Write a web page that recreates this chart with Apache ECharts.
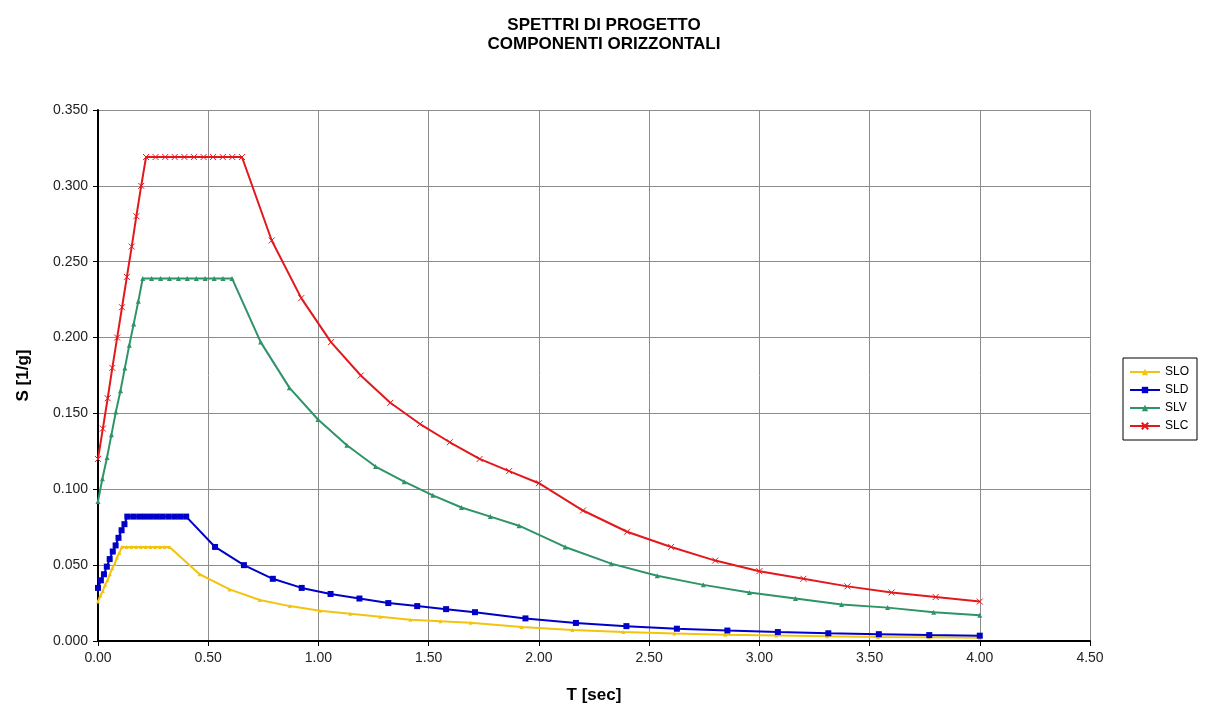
<!DOCTYPE html>
<html>
<head>
<meta charset="utf-8">
<script src="https://cdn.jsdelivr.net/npm/echarts@6/dist/echarts.min.js"></script>
<style>
  html, body { margin: 0; padding: 0; background: #fff; }
  #container { width: 1208px; height: 709px; }
</style>
</head>
<body>
<div id="container"></div>
<script>
// periodi T [sec] e ordinate S [1/g]
var slo_T = [0, 0.011, 0.022, 0.032, 0.043, 0.054, 0.065, 0.076, 0.086, 0.097, 0.108,
             0.130, 0.151, 0.173, 0.194, 0.216, 0.238, 0.259, 0.281, 0.302, 0.324,
             0.461, 0.597, 0.734, 0.870, 1.007, 1.144, 1.280, 1.417, 1.553, 1.690,
             1.921, 2.152, 2.383, 2.614, 2.845, 3.076, 3.307, 3.538, 3.769, 4.000];
var slo_S = [0.026, 0.030, 0.033, 0.037, 0.040, 0.044, 0.048, 0.051, 0.055, 0.058, 0.062,
             0.062, 0.062, 0.062, 0.062, 0.062, 0.062, 0.062, 0.062, 0.062, 0.062,
             0.044, 0.034, 0.027, 0.023, 0.020, 0.018, 0.016, 0.014, 0.013, 0.012,
             0.0092, 0.0073, 0.0060, 0.0050, 0.0042, 0.0036, 0.0031, 0.0027, 0.0024, 0.0021];

var sld_T = [0, 0.013, 0.027, 0.040, 0.053, 0.067, 0.080, 0.093, 0.107, 0.120, 0.133,
             0.160, 0.187, 0.213, 0.240, 0.267, 0.293, 0.320, 0.347, 0.373, 0.400,
             0.531, 0.662, 0.793, 0.924, 1.055, 1.186, 1.317, 1.448, 1.579, 1.710,
             1.939, 2.168, 2.397, 2.626, 2.855, 3.084, 3.313, 3.542, 3.771, 4.000];
var sld_S = [0.035, 0.040, 0.044, 0.049, 0.054, 0.059, 0.063, 0.068, 0.073, 0.077, 0.082,
             0.082, 0.082, 0.082, 0.082, 0.082, 0.082, 0.082, 0.082, 0.082, 0.082,
             0.062, 0.050, 0.041, 0.035, 0.031, 0.028, 0.025, 0.023, 0.021, 0.019,
             0.0149, 0.0119, 0.0098, 0.0081, 0.0069, 0.0059, 0.0051, 0.0045, 0.0039, 0.0035];

var slv_T = [0, 0.020, 0.041, 0.061, 0.081, 0.102, 0.122, 0.142, 0.162, 0.183, 0.203,
             0.243, 0.284, 0.324, 0.365, 0.405, 0.446, 0.486, 0.527, 0.567, 0.608,
             0.738, 0.868, 0.998, 1.129, 1.259, 1.389, 1.519, 1.649, 1.780, 1.910,
             2.119, 2.328, 2.537, 2.746, 2.955, 3.164, 3.373, 3.582, 3.791, 4.000];
var slv_S = [0.092, 0.107, 0.121, 0.136, 0.151, 0.165, 0.180, 0.195, 0.209, 0.224, 0.239,
             0.239, 0.239, 0.239, 0.239, 0.239, 0.239, 0.239, 0.239, 0.239, 0.239,
             0.197, 0.167, 0.146, 0.129, 0.115, 0.105, 0.096, 0.088, 0.082, 0.076,
             0.062, 0.051, 0.043, 0.037, 0.032, 0.028, 0.024, 0.022, 0.019, 0.017];

var slc_T = [0, 0.022, 0.044, 0.065, 0.087, 0.109, 0.131, 0.153, 0.174, 0.196, 0.218,
             0.261, 0.305, 0.348, 0.392, 0.435, 0.479, 0.522, 0.566, 0.609, 0.653,
             0.788, 0.922, 1.057, 1.192, 1.326, 1.461, 1.596, 1.731, 1.865, 2.000,
             2.200, 2.400, 2.600, 2.800, 3.000, 3.200, 3.400, 3.600, 3.800, 4.000];
var slc_S = [0.120, 0.140, 0.160, 0.180, 0.200, 0.220, 0.240, 0.260, 0.280, 0.300, 0.319,
             0.319, 0.319, 0.319, 0.319, 0.319, 0.319, 0.319, 0.319, 0.319, 0.319,
             0.264, 0.226, 0.197, 0.175, 0.157, 0.143, 0.131, 0.120, 0.112, 0.104,
             0.086, 0.072, 0.062, 0.053, 0.046, 0.041, 0.036, 0.032, 0.029, 0.026];

var seriesNames = ['SLO', 'SLD', 'SLV', 'SLC'];

function pairs(t, s) {
    var out = [];
    for (var i = 0; i < t.length; i++) out.push([t[i], s[i]]);
    return out;
}

var font = 'Arial, "Liberation Sans", sans-serif';
var crossSymbol = 'path://M0,0L10,10M10,0L0,10';

var myChart = echarts.init(document.getElementById('container'));

var option = {
    animation: false,
    backgroundColor: '#fff',
    title: {
        text: 'SPETTRI DI PROGETTO\nCOMPONENTI ORIZZONTALI',
        left: 'center',
        top: 11,
        textStyle: { fontFamily: font, fontSize: 17, fontWeight: 'bold', color: '#000', lineHeight: 19 }
    },
    legend: {
        orient: 'vertical',
        left: 1123,
        top: 358,
        itemWidth: 30,
        itemHeight: 8,
        itemGap: 6,
        padding: [8, 8, 8, 6],
        borderColor: '#000',
        borderWidth: 1,
        textStyle: { fontFamily: font, fontSize: 12, color: '#000' },
        data: seriesNames
    },
    grid: { left: 98, top: 110, width: 992, height: 531, show: false },
    xAxis: {
        type: 'value',
        min: 0, max: 4.5, interval: 0.5,
        name: 'T [sec]',
        nameLocation: 'middle',
        nameGap: 46,
        nameTextStyle: { fontFamily: font, fontSize: 17, fontWeight: 'bold', color: '#000' },
        axisLine: { lineStyle: { color: '#000', width: 2 } },
        axisTick: { inside: false, length: 5, lineStyle: { color: '#000' } },
        axisLabel: { fontFamily: font, fontSize: 14, color: '#222', margin: 10,
                     formatter: function (v) { return v.toFixed(2); } },
        splitLine: { show: true, lineStyle: { color: '#8c8c8c', width: 1 } }
    },
    yAxis: {
        type: 'value',
        min: 0, max: 0.35, interval: 0.05,
        name: 'S [1/g]',
        nameLocation: 'middle',
        nameGap: 66,
        nameRotate: 90,
        nameTextStyle: { fontFamily: font, fontSize: 17, fontWeight: 'bold', color: '#000' },
        axisLine: { show: true, lineStyle: { color: '#000', width: 2 } },
        axisTick: { show: true, length: 5, lineStyle: { color: '#000' } },
        axisLabel: { fontFamily: font, fontSize: 14, color: '#222', margin: 10,
                     formatter: function (v) { return v.toFixed(3); } },
        splitLine: { show: true, lineStyle: { color: '#8c8c8c', width: 1 } }
    },
    series: [
        {
            name: 'SLO', type: 'line', data: pairs(slo_T, slo_S),
            symbol: 'triangle', symbolSize: 4,
            itemStyle: { color: '#f2c40f' },
            lineStyle: { color: '#f2c40f', width: 2 }
        },
        {
            name: 'SLD', type: 'line', data: pairs(sld_T, sld_S),
            symbol: 'rect', symbolSize: 6,
            itemStyle: { color: '#0000c8' },
            lineStyle: { color: '#0000c8', width: 2 }
        },
        {
            name: 'SLV', type: 'line', data: pairs(slv_T, slv_S),
            symbol: 'triangle', symbolSize: 5,
            itemStyle: { color: '#2e9467' },
            lineStyle: { color: '#2e9467', width: 2 }
        },
        {
            name: 'SLC', type: 'line', data: pairs(slc_T, slc_S),
            symbol: crossSymbol, symbolSize: 6,
            itemStyle: { color: 'rgba(0,0,0,0)', borderColor: '#e3181c', borderWidth: 1 },
            lineStyle: { color: '#e3181c', width: 2 }
        }
    ]
};

myChart.setOption(option);
</script>
</body>
</html>
